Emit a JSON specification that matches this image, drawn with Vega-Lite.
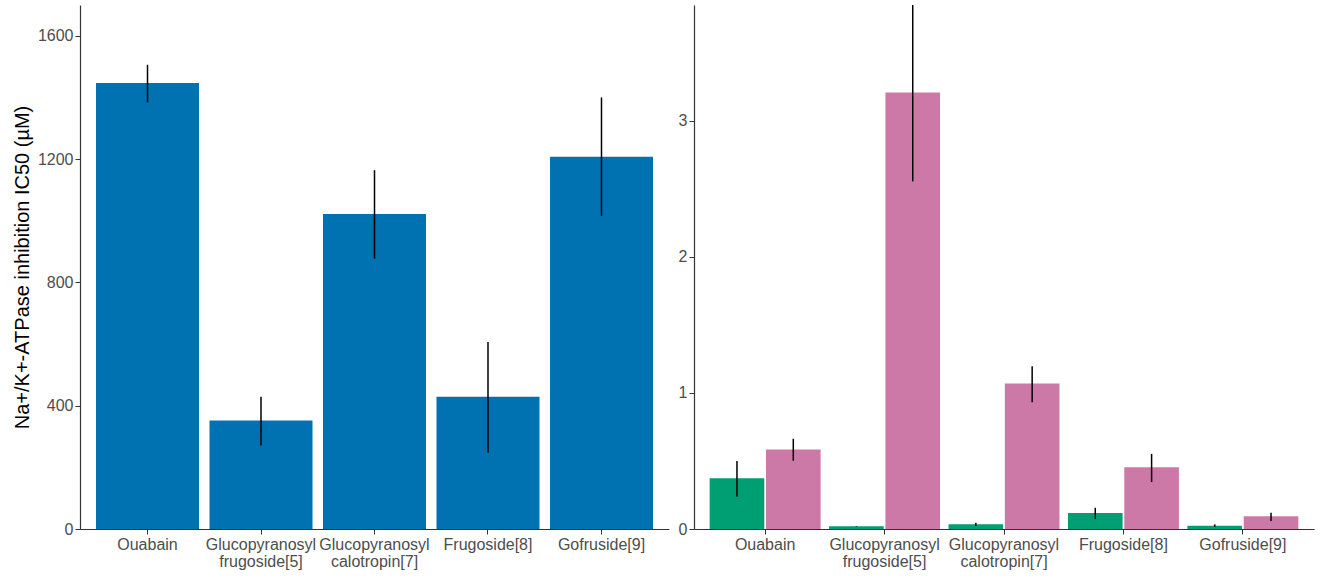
{
  "$schema": "https://vega.github.io/schema/vega-lite/v6.json",
  "padding": {"left": 12, "top": 5, "right": 3, "bottom": 5},
  "background": "white",
  "datasets": {
    "total": [
      {"compound": "Ouabain", "ic50": 1447, "lo": 1384, "hi": 1506},
      {"compound": "Glucopyranosyl frugoside[5]", "ic50": 352, "lo": 271, "hi": 429},
      {"compound": "Glucopyranosyl calotropin[7]", "ic50": 1022, "lo": 877, "hi": 1164},
      {"compound": "Frugoside[8]", "ic50": 429, "lo": 247, "hi": 607},
      {"compound": "Gofruside[9]", "ic50": 1208, "lo": 1016, "hi": 1400}
    ],
    "groups": [
      {"compound": "Ouabain", "group": "Group 1", "ic50": 0.372, "lo": 0.237, "hi": 0.499},
      {"compound": "Ouabain", "group": "Group 2", "ic50": 0.585, "lo": 0.501, "hi": 0.663},
      {"compound": "Glucopyranosyl frugoside[5]", "group": "Group 1", "ic50": 0.02, "lo": 0.018, "hi": 0.022},
      {"compound": "Glucopyranosyl frugoside[5]", "group": "Group 2", "ic50": 3.208, "lo": 2.554, "hi": 3.862},
      {"compound": "Glucopyranosyl calotropin[7]", "group": "Group 1", "ic50": 0.034, "lo": 0.022, "hi": 0.046},
      {"compound": "Glucopyranosyl calotropin[7]", "group": "Group 2", "ic50": 1.069, "lo": 0.932, "hi": 1.196},
      {"compound": "Frugoside[8]", "group": "Group 1", "ic50": 0.117, "lo": 0.073, "hi": 0.156},
      {"compound": "Frugoside[8]", "group": "Group 2", "ic50": 0.453, "lo": 0.345, "hi": 0.552},
      {"compound": "Gofruside[9]", "group": "Group 1", "ic50": 0.024, "lo": 0.015, "hi": 0.034},
      {"compound": "Gofruside[9]", "group": "Group 2", "ic50": 0.093, "lo": 0.059, "hi": 0.12}
    ]
  },
  "config": {
    "view": {"stroke": null},
    "font": "Liberation Sans",
    "axis": {
      "grid": false,
      "domainColor": "#333333",
      "domainWidth": 1.2,
      "tickColor": "#333333",
      "tickSize": 5,
      "labelPadding": 2,
      "labelColor": "#4d4d4d",
      "labelFont": "Liberation Sans",
      "titleFont": "Liberation Sans",
      "titleColor": "black",
      "titleFontWeight": "normal"
    }
  },
  "spacing": 9,
  "hconcat": [
    {
      "width": 589,
      "height": 524,
      "data": {"name": "total"},
      "encoding": {
        "x": {
          "field": "compound",
          "type": "nominal",
          "sort": null,
          "scale": {"paddingInner": 0.0925, "paddingOuter": 0.141},
          "axis": {
            "title": null,
            "labelAngle": 0,
            "labelFontSize": 16,
            "labelLineHeight": 17,
            "labelExpr": "split(datum.label, ' ')"
          }
        }
      },
      "layer": [
        {
          "mark": {"type": "bar", "color": "#0072B2"},
          "encoding": {
            "y": {
              "field": "ic50",
              "type": "quantitative",
              "scale": {"domain": [0, 1700], "nice": false},
              "axis": {
                "title": "Na+/K+-ATPase inhibition IC50 (µM)",
                "titleFontSize": 20,
                "titlePadding": 5,
                "labelFontSize": 16,
                "format": "d",
                "values": [0, 400, 800, 1200, 1600]
              }
            }
          }
        },
        {
          "mark": {"type": "rule", "color": "black", "strokeWidth": 1.5},
          "encoding": {
            "y": {"field": "lo", "type": "quantitative"},
            "y2": {"field": "hi"}
          }
        }
      ]
    },
    {
      "width": 620,
      "height": 524,
      "data": {"name": "groups"},
      "encoding": {
        "x": {
          "field": "compound",
          "type": "nominal",
          "sort": null,
          "scale": {"paddingInner": 0.071, "paddingOuter": 0.131},
          "axis": {
            "title": null,
            "labelAngle": 0,
            "labelFontSize": 16,
            "labelLineHeight": 17,
            "labelExpr": "split(datum.label, ' ')"
          }
        },
        "xOffset": {
          "field": "group",
          "type": "nominal",
          "scale": {"paddingInner": 0.03, "paddingOuter": 0}
        }
      },
      "layer": [
        {
          "mark": {"type": "bar"},
          "encoding": {
            "y": {
              "field": "ic50",
              "type": "quantitative",
              "scale": {"domain": [0, 3.85], "nice": false},
              "axis": {
                "title": null,
                "labelFontSize": 16,
                "format": "d",
                "values": [0, 1, 2, 3]
              }
            },
            "color": {
              "field": "group",
              "type": "nominal",
              "legend": null,
              "scale": {"domain": ["Group 1", "Group 2"], "range": ["#009E73", "#CC79A7"]}
            }
          }
        },
        {
          "mark": {"type": "rule", "color": "black", "strokeWidth": 1.5, "clip": true},
          "encoding": {
            "y": {"field": "lo", "type": "quantitative"},
            "y2": {"field": "hi"}
          }
        }
      ]
    }
  ]
}
